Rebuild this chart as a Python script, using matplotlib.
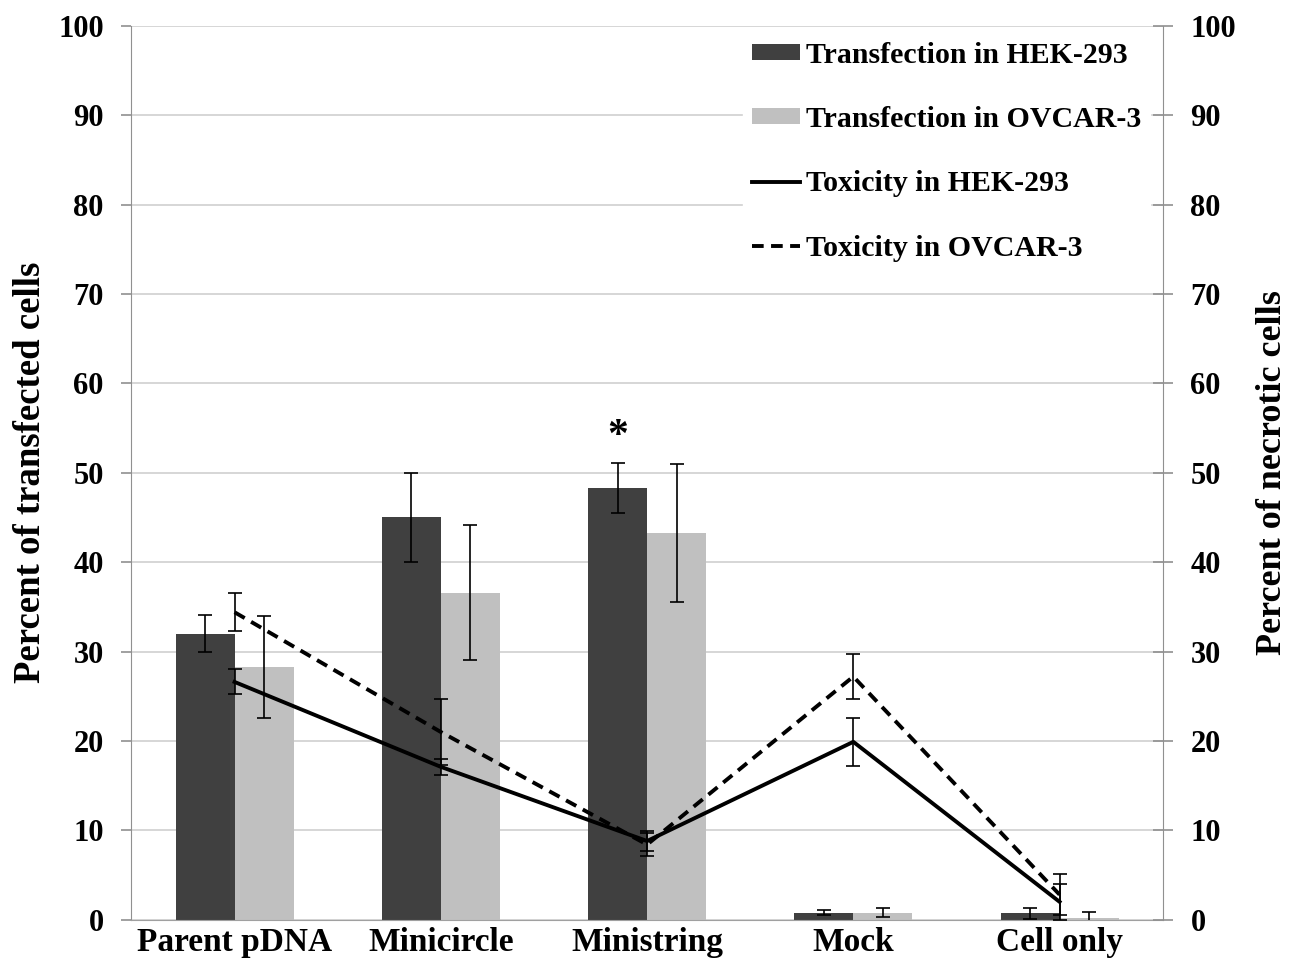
import matplotlib
matplotlib.use("Agg")
import matplotlib.pyplot as plt
import numpy as np
from matplotlib.patches import Patch
from matplotlib.lines import Line2D

categories = ["Parent pDNA", "Minicircle", "Ministring", "Mock", "Cell only"]
trans_hek = [32.0, 45.0, 48.3, 0.8, 0.7]
trans_hek_err = [2.1, 5.0, 2.8, 0.3, 0.6]
trans_ov = [28.3, 36.6, 43.3, 0.8, 0.2]
trans_ov_err = [5.7, 7.6, 7.7, 0.5, 0.7]
tox_hek = [26.6, 17.1, 8.8, 19.9, 2.0]
tox_hek_err = [1.4, 0.9, 1.1, 2.7, 2.0]
tox_ov = [34.4, 21.0, 8.4, 27.2, 2.8]
tox_ov_err = [2.1, 3.7, 1.3, 2.5, 2.3]
yticks = list(range(0, 101, 10))

plt.rcParams['font.family'] = ['Liberation Serif', 'DejaVu Serif']
plt.rcParams['font.weight'] = 'bold'

fig = plt.figure(figsize=(12.89, 9.61), dpi=100)
ax = fig.add_axes([0.102, 0.043, 0.800, 0.930])
ax2 = ax.twinx()

x = np.arange(len(categories))
w = 0.286
dark = '#404040'
light = '#c0c0c0'
ax.bar(x - w/2, trans_hek, w, color=dark, zorder=2)
ax.bar(x + w/2, trans_ov, w, color=light, zorder=2)
ax.errorbar(x - w/2, trans_hek, yerr=trans_hek_err, fmt='none', ecolor='black',
            elinewidth=1.2, capsize=5, capthick=1.2, zorder=3)
ax.errorbar(x + w/2, trans_ov, yerr=trans_ov_err, fmt='none', ecolor='black',
            elinewidth=1.2, capsize=5, capthick=1.2, zorder=3)

dash = (0, (3.0, 1.9))
ax2.plot(x, tox_hek, color='black', lw=2.8, zorder=4)
ax2.plot(x, tox_ov, color='black', lw=2.8, ls=dash, zorder=4)
ax2.errorbar(x, tox_hek, yerr=tox_hek_err, fmt='none', ecolor='black',
             elinewidth=1.2, capsize=5, capthick=1.2, zorder=5)
ax2.errorbar(x, tox_ov, yerr=tox_ov_err, fmt='none', ecolor='black',
             elinewidth=1.2, capsize=5, capthick=1.2, zorder=5)

for a in (ax, ax2):
    a.set_ylim(0, 100)
    a.set_yticks(yticks)
    a.set_xlim(-0.5, len(categories) - 0.5)
    a.spines['top'].set_visible(False)
ax.yaxis.grid(True, color='#d0d0d0', lw=1.2, zorder=0)
ax.set_axisbelow(True)
ax.spines['right'].set_visible(False)
ax2.spines['left'].set_visible(False)
ax.spines['left'].set_color('#909090')
ax2.spines['right'].set_color('#909090')
ax.spines['bottom'].set_color('#a0a0a0')
ax2.spines['bottom'].set_visible(False)

ax.tick_params(axis='y', labelsize=22, length=7, width=1.2, color='#909090', pad=13)
ax2.tick_params(axis='y', labelsize=22, length=14, width=1.2, direction='inout',
                color='#909090', pad=13)
ax.set_xticks(x)
ax.set_xticklabels(categories, fontsize=24, fontweight='bold')
ax.tick_params(axis='x', length=0, pad=5)
for lab in ax.get_yticklabels() + ax2.get_yticklabels():
    lab.set_fontweight('bold')

ax.set_ylabel("Percent of transfected cells", fontsize=26.5, fontweight='bold', labelpad=7)
ax2.set_ylabel("Percent of necrotic cells", fontsize=26, fontweight='bold', labelpad=14)

# significance star
ax.text(x[2] - w/2, 54.0, "*", ha='center', va='center', fontsize=30, fontweight='bold')

handles = [Patch(facecolor=dark, edgecolor='none'),
           Patch(facecolor=light, edgecolor='none'),
           Line2D([0], [0], color='black', lw=2.8),
           Line2D([0], [0], color='black', lw=2.8, ls=dash)]
labels = ["Transfection in HEK-293", "Transfection in OVCAR-3",
          "Toxicity in HEK-293", "Toxicity in OVCAR-3"]
leg = fig.legend(handles, labels, loc='upper left', bbox_to_anchor=(0.5764, 0.966),
                 frameon=True, fancybox=False, edgecolor='white', facecolor='white',
                 framealpha=1, prop={'size': 21.5, 'weight': 'bold'},
                 handlelength=1.6, handleheight=0.45, handletextpad=0.2,
                 labelspacing=1.25, borderpad=0.3, borderaxespad=0)
leg.set_zorder(10)

fig.savefig("out.png", dpi=100)
